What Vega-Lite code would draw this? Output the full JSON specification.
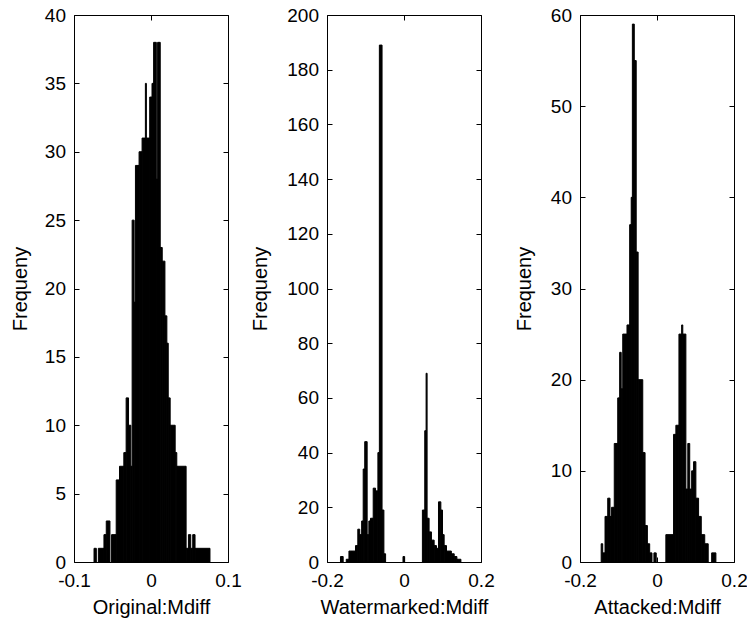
{
  "$schema": "https://vega.github.io/schema/vega-lite/v6.json",
  "padding": {"left": 9, "top": 5, "right": 0, "bottom": 5},
  "spacing": 99,
  "bounds": "flush",
  "config": {
    "font": "Liberation Sans",
    "view": {"stroke": "black", "strokeWidth": 1},
    "axis": {
      "domain": false,
      "grid": false,
      "tickSize": -5,
      "tickColor": "black",
      "tickWidth": 1,
      "labelFont": "Liberation Sans",
      "labelFontSize": 19,
      "labelColor": "black",
      "labelPadding": 13.5,
      "labelFlush": false,
      "labelOverlap": false,
      "titleFont": "Liberation Sans",
      "titleFontSize": 20,
      "titleFontWeight": "normal",
      "titleColor": "black"
    },
    "axisBottom": {"labelPadding": 14.5}
  },
  "hconcat": [
    {
      "width": 154,
      "height": 547,
      "data": {"values": [
        {"x0": -0.0740, "x1": -0.0710, "count": 1},
        {"x0": -0.0684, "x1": -0.0611, "count": 1},
        {"x0": -0.0611, "x1": -0.0581, "count": 2},
        {"x0": -0.0581, "x1": -0.0533, "count": 3},
        {"x0": -0.0512, "x1": -0.0452, "count": 2},
        {"x0": -0.0452, "x1": -0.0409, "count": 6},
        {"x0": -0.0409, "x1": -0.0353, "count": 7},
        {"x0": -0.0353, "x1": -0.0323, "count": 8},
        {"x0": -0.0323, "x1": -0.0292, "count": 12},
        {"x0": -0.0292, "x1": -0.0262, "count": 10},
        {"x0": -0.0262, "x1": -0.0245, "count": 7},
        {"x0": -0.0245, "x1": -0.0219, "count": 25},
        {"x0": -0.0219, "x1": -0.0202, "count": 19},
        {"x0": -0.0202, "x1": -0.0155, "count": 29},
        {"x0": -0.0155, "x1": -0.0116, "count": 30},
        {"x0": -0.0116, "x1": -0.0073, "count": 31},
        {"x0": -0.0073, "x1": -0.0060, "count": 35},
        {"x0": -0.0060, "x1": -0.0017, "count": 31},
        {"x0": -0.0017, "x1": 0.0013, "count": 34},
        {"x0": 0.0013, "x1": 0.0034, "count": 35},
        {"x0": 0.0034, "x1": 0.0069, "count": 38},
        {"x0": 0.0069, "x1": 0.0086, "count": 28},
        {"x0": 0.0086, "x1": 0.0120, "count": 38},
        {"x0": 0.0120, "x1": 0.0146, "count": 23},
        {"x0": 0.0146, "x1": 0.0181, "count": 22},
        {"x0": 0.0181, "x1": 0.0206, "count": 18},
        {"x0": 0.0206, "x1": 0.0224, "count": 16},
        {"x0": 0.0224, "x1": 0.0249, "count": 12},
        {"x0": 0.0249, "x1": 0.0314, "count": 10},
        {"x0": 0.0314, "x1": 0.0335, "count": 8},
        {"x0": 0.0335, "x1": 0.0456, "count": 7},
        {"x0": 0.0456, "x1": 0.0486, "count": 1},
        {"x0": 0.0486, "x1": 0.0516, "count": 2},
        {"x0": 0.0516, "x1": 0.0542, "count": 1},
        {"x0": 0.0542, "x1": 0.0572, "count": 2},
        {"x0": 0.0572, "x1": 0.0766, "count": 1}
      ]},
      "layer": [
        {
          "mark": {"type": "rect", "color": "black", "stroke": "black", "strokeWidth": 1},
          "encoding": {
            "x": {"field": "x0", "type": "quantitative", "scale": {"domain": [-0.1, 0.1], "nice": false, "zero": false},
                  "axis": {"values": [-0.1, 0, 0.1], "labelExpr": "datum.value + ''", "title": "Original:Mdiff", "titleY": 51.5, "titleBaseline": "alphabetic"}},
            "x2": {"field": "x1"},
            "y": {"field": "count", "type": "quantitative", "scale": {"domain": [0, 40], "nice": false},
                  "axis": {"values": [0, 5, 10, 15, 20, 25, 30, 35, 40], "title": "Frequeny", "titleX": -48, "titleBaseline": "alphabetic"}},
            "y2": {"datum": 0}
          }
        },
        {
          "mark": {"type": "rect", "opacity": 0},
          "encoding": {
            "x": {"field": "x0", "type": "quantitative", "scale": {"domain": [-0.1, 0.1], "nice": false, "zero": false},
                  "axis": {"orient": "top", "values": [-0.1, 0, 0.1], "labels": false, "title": null}},
            "x2": {"field": "x1"},
            "y": {"field": "count", "type": "quantitative", "scale": {"domain": [0, 40], "nice": false},
                  "axis": {"orient": "right", "values": [0, 5, 10, 15, 20, 25, 30, 35, 40], "labels": false, "title": null}},
            "y2": {"datum": 0}
          }
        }
      ],
      "resolve": {"axis": {"x": "independent", "y": "independent"}}
    },
    {
      "width": 154,
      "height": 547,
      "data": {"values": [
        {"x0": -0.165, "x1": -0.158, "count": 2},
        {"x0": -0.150, "x1": -0.143, "count": 1},
        {"x0": -0.143, "x1": -0.135, "count": 4},
        {"x0": -0.135, "x1": -0.126, "count": 4},
        {"x0": -0.126, "x1": -0.120, "count": 6},
        {"x0": -0.120, "x1": -0.115, "count": 12},
        {"x0": -0.115, "x1": -0.110, "count": 10},
        {"x0": -0.110, "x1": -0.106, "count": 15},
        {"x0": -0.106, "x1": -0.102, "count": 34},
        {"x0": -0.102, "x1": -0.0957, "count": 44},
        {"x0": -0.0957, "x1": -0.0913, "count": 10},
        {"x0": -0.0913, "x1": -0.0870, "count": 15},
        {"x0": -0.0870, "x1": -0.0800, "count": 16},
        {"x0": -0.0800, "x1": -0.0739, "count": 27},
        {"x0": -0.0739, "x1": -0.0678, "count": 26},
        {"x0": -0.0678, "x1": -0.0640, "count": 40},
        {"x0": -0.0640, "x1": -0.0570, "count": 189},
        {"x0": -0.0570, "x1": -0.0522, "count": 19},
        {"x0": -0.0522, "x1": -0.0478, "count": 3},
        {"x0": -0.0026, "x1": 0.0017, "count": 2},
        {"x0": 0.0478, "x1": 0.0539, "count": 19},
        {"x0": 0.0539, "x1": 0.0574, "count": 48},
        {"x0": 0.0574, "x1": 0.0600, "count": 69},
        {"x0": 0.0600, "x1": 0.0652, "count": 16},
        {"x0": 0.0652, "x1": 0.0713, "count": 11},
        {"x0": 0.0713, "x1": 0.0783, "count": 8},
        {"x0": 0.0783, "x1": 0.0843, "count": 6},
        {"x0": 0.0843, "x1": 0.0896, "count": 5},
        {"x0": 0.0896, "x1": 0.0957, "count": 22},
        {"x0": 0.0957, "x1": 0.1000, "count": 19},
        {"x0": 0.1000, "x1": 0.1043, "count": 10},
        {"x0": 0.1043, "x1": 0.1104, "count": 6},
        {"x0": 0.1104, "x1": 0.1230, "count": 4},
        {"x0": 0.1230, "x1": 0.1304, "count": 3},
        {"x0": 0.1304, "x1": 0.1374, "count": 2},
        {"x0": 0.1374, "x1": 0.1478, "count": 1}
      ]},
      "layer": [
        {
          "mark": {"type": "rect", "color": "black", "stroke": "black", "strokeWidth": 1},
          "encoding": {
            "x": {"field": "x0", "type": "quantitative", "scale": {"domain": [-0.2, 0.2], "nice": false, "zero": false},
                  "axis": {"values": [-0.2, 0, 0.2], "labelExpr": "datum.value + ''", "title": "Watermarked:Mdiff", "titleY": 51.5, "titleBaseline": "alphabetic"}},
            "x2": {"field": "x1"},
            "y": {"field": "count", "type": "quantitative", "scale": {"domain": [0, 200], "nice": false},
                  "axis": {"values": [0, 20, 40, 60, 80, 100, 120, 140, 160, 180, 200], "title": "Frequeny", "titleX": -61, "titleBaseline": "alphabetic"}},
            "y2": {"datum": 0}
          }
        },
        {
          "mark": {"type": "rect", "opacity": 0},
          "encoding": {
            "x": {"field": "x0", "type": "quantitative", "scale": {"domain": [-0.2, 0.2], "nice": false, "zero": false},
                  "axis": {"orient": "top", "values": [-0.2, 0, 0.2], "labels": false, "title": null}},
            "x2": {"field": "x1"},
            "y": {"field": "count", "type": "quantitative", "scale": {"domain": [0, 200], "nice": false},
                  "axis": {"orient": "right", "values": [0, 20, 40, 60, 80, 100, 120, 140, 160, 180, 200], "labels": false, "title": null}},
            "y2": {"datum": 0}
          }
        }
      ],
      "resolve": {"axis": {"x": "independent", "y": "independent"}}
    },
    {
      "width": 154,
      "height": 547,
      "data": {"values": [
        {"x0": -0.145, "x1": -0.141, "count": 2},
        {"x0": -0.141, "x1": -0.135, "count": 1},
        {"x0": -0.135, "x1": -0.128, "count": 5},
        {"x0": -0.128, "x1": -0.122, "count": 7},
        {"x0": -0.122, "x1": -0.118, "count": 5},
        {"x0": -0.118, "x1": -0.111, "count": 6},
        {"x0": -0.111, "x1": -0.102, "count": 13},
        {"x0": -0.102, "x1": -0.097, "count": 18},
        {"x0": -0.097, "x1": -0.093, "count": 23},
        {"x0": -0.093, "x1": -0.089, "count": 19},
        {"x0": -0.089, "x1": -0.078, "count": 25},
        {"x0": -0.078, "x1": -0.071, "count": 26},
        {"x0": -0.071, "x1": -0.067, "count": 37},
        {"x0": -0.067, "x1": -0.064, "count": 40},
        {"x0": -0.064, "x1": -0.059, "count": 59},
        {"x0": -0.059, "x1": -0.054, "count": 55},
        {"x0": -0.054, "x1": -0.049, "count": 34},
        {"x0": -0.049, "x1": -0.037, "count": 20},
        {"x0": -0.037, "x1": -0.031, "count": 12},
        {"x0": -0.031, "x1": -0.025, "count": 4},
        {"x0": -0.025, "x1": -0.019, "count": 2},
        {"x0": -0.019, "x1": -0.013, "count": 1},
        {"x0": -0.008, "x1": -0.002, "count": 1},
        {"x0": 0.023, "x1": 0.043, "count": 3},
        {"x0": 0.043, "x1": 0.049, "count": 14},
        {"x0": 0.049, "x1": 0.057, "count": 15},
        {"x0": 0.057, "x1": 0.064, "count": 25},
        {"x0": 0.064, "x1": 0.067, "count": 26},
        {"x0": 0.067, "x1": 0.075, "count": 25},
        {"x0": 0.075, "x1": 0.080, "count": 8},
        {"x0": 0.080, "x1": 0.085, "count": 13},
        {"x0": 0.085, "x1": 0.090, "count": 8},
        {"x0": 0.090, "x1": 0.095, "count": 10},
        {"x0": 0.095, "x1": 0.101, "count": 11},
        {"x0": 0.101, "x1": 0.108, "count": 7},
        {"x0": 0.108, "x1": 0.115, "count": 5},
        {"x0": 0.115, "x1": 0.124, "count": 3},
        {"x0": 0.124, "x1": 0.133, "count": 2},
        {"x0": 0.142, "x1": 0.153, "count": 1}
      ]},
      "layer": [
        {
          "mark": {"type": "rect", "color": "black", "stroke": "black", "strokeWidth": 1},
          "encoding": {
            "x": {"field": "x0", "type": "quantitative", "scale": {"domain": [-0.2, 0.2], "nice": false, "zero": false},
                  "axis": {"values": [-0.2, 0, 0.2], "labelExpr": "datum.value + ''", "title": "Attacked:Mdiff", "titleY": 51.5, "titleBaseline": "alphabetic"}},
            "x2": {"field": "x1"},
            "y": {"field": "count", "type": "quantitative", "scale": {"domain": [0, 60], "nice": false},
                  "axis": {"values": [0, 10, 20, 30, 40, 50, 60], "title": "Frequeny", "titleX": -50, "titleBaseline": "alphabetic"}},
            "y2": {"datum": 0}
          }
        },
        {
          "mark": {"type": "rect", "opacity": 0},
          "encoding": {
            "x": {"field": "x0", "type": "quantitative", "scale": {"domain": [-0.2, 0.2], "nice": false, "zero": false},
                  "axis": {"orient": "top", "values": [-0.2, 0, 0.2], "labels": false, "title": null}},
            "x2": {"field": "x1"},
            "y": {"field": "count", "type": "quantitative", "scale": {"domain": [0, 60], "nice": false},
                  "axis": {"orient": "right", "values": [0, 10, 20, 30, 40, 50, 60], "labels": false, "title": null}},
            "y2": {"datum": 0}
          }
        }
      ],
      "resolve": {"axis": {"x": "independent", "y": "independent"}}
    }
  ]
}
